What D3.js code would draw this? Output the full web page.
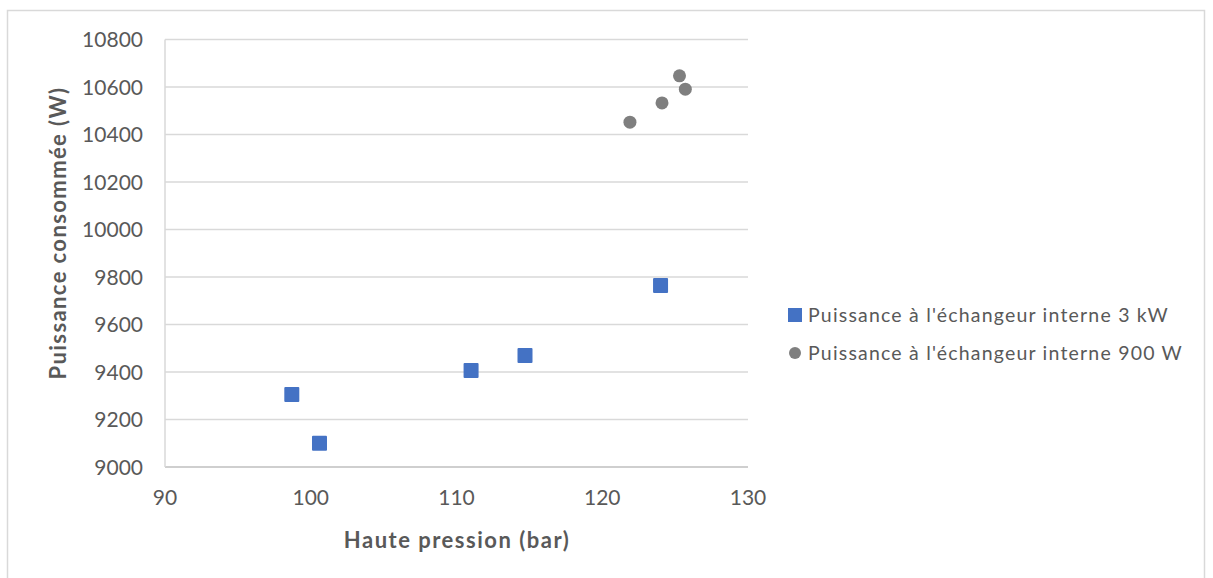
<!DOCTYPE html>
<html><head><meta charset="utf-8">
<script src="https://cdn.jsdelivr.net/npm/d3@7"></script>
<style>body{margin:0;background:#fff}</style>
</head><body>
<svg id="c" width="1213" height="578"></svg>
<script>
const s1Name = "Puissance à l'échangeur interne 3 kW";
const s1X = [98.7, 100.6, 111.0, 114.7, 124.0];
const s1Y = [9305, 9100, 9406, 9469, 9764];
const s2Name = "Puissance à l'échangeur interne 900 W";
const s2X = [121.9, 124.1, 125.3, 125.7];
const s2Y = [10452, 10533, 10647, 10591];
const xTicks = [90, 100, 110, 120, 130];
const yTicks = [9000, 9200, 9400, 9600, 9800, 10000, 10200, 10400, 10600, 10800];
const xTitle = "Haute pression (bar)";
const yTitle = "Puissance consommée (W)";

const svg = d3.select("#c");
const font = "Lato, 'Open Sans', sans-serif";
const L = 165, R = 748, T = 39.5, B = 467;
const x = d3.scaleLinear().domain([90,130]).range([L,R]);
const y = d3.scaleLinear().domain([9000,10800]).range([B,T]);

svg.append("rect").attr("x",7.5).attr("y",10.5).attr("width",1197).attr("height",575)
  .attr("fill","#fff").attr("stroke","#d9d9d9").attr("stroke-width",1.5);

// gridlines
svg.append("g").selectAll("line").data(yTicks).join("line")
  .attr("x1",L).attr("x2",R).attr("y1",d=>y(d)).attr("y2",d=>y(d))
  .attr("stroke",d=>d===9000?"#bfbfbf":"#d9d9d9").attr("stroke-width",1.5);
svg.append("line").attr("x1",L).attr("x2",L).attr("y1",T).attr("y2",B)
  .attr("stroke","#d9d9d9").attr("stroke-width",1.5);

// tick labels
svg.append("g").selectAll("text").data(yTicks).join("text")
  .attr("x",143).attr("y",d=>y(d)).attr("dy","0.36em").attr("text-anchor","end")
  .attr("font-family",font).attr("font-size",21).attr("fill","#595959").text(d=>d);
svg.append("g").selectAll("text").data(xTicks).join("text")
  .attr("x",d=>x(d)).attr("y",497).attr("dy","0.36em").attr("text-anchor","middle")
  .attr("font-family",font).attr("font-size",21).attr("fill","#595959").text(d=>d);

// axis titles
svg.append("text").attr("x",457).attr("y",540).attr("dy","0.36em").attr("text-anchor","middle")
  .attr("font-family",font).attr("font-size",22).attr("font-weight","bold").attr("letter-spacing",1.5)
  .attr("fill","#595959").text(xTitle);
svg.append("text").attr("transform","translate(58,233) rotate(-90)").attr("dy","0.36em").attr("text-anchor","middle")
  .attr("font-family",font).attr("font-size",22).attr("font-weight","bold").attr("letter-spacing",1.4)
  .attr("fill","#595959").text(yTitle);

// series
const d1 = s1X.map((v,i)=>[v,s1Y[i]]);
const d2 = s2X.map((v,i)=>[v,s2Y[i]]);
const sq = 15;
svg.append("g").selectAll("rect").data(d1).join("rect")
  .attr("x",d=>x(d[0])-sq/2).attr("y",d=>y(d[1])-sq/2).attr("width",sq).attr("height",sq)
  .attr("rx",1).attr("fill","#4472c4");
svg.append("g").selectAll("circle").data(d2).join("circle")
  .attr("cx",d=>x(d[0])).attr("cy",d=>y(d[1])).attr("r",6.5).attr("fill","#7f7f7f");

// legend
const lg = svg.append("g");
lg.append("rect").attr("x",788).attr("y",308).attr("width",14).attr("height",14).attr("fill","#4472c4");
lg.append("text").attr("x",808).attr("y",315).attr("dy","0.36em").attr("font-family",font)
  .attr("font-size",19.5).attr("letter-spacing",1.2).attr("fill","#595959").text(s1Name);
lg.append("circle").attr("cx",795).attr("cy",353).attr("r",6).attr("fill","#7f7f7f");
lg.append("text").attr("x",808).attr("y",353).attr("dy","0.36em").attr("font-family",font)
  .attr("font-size",19.5).attr("letter-spacing",1.2).attr("fill","#595959").text(s2Name);
</script>
</body></html>
